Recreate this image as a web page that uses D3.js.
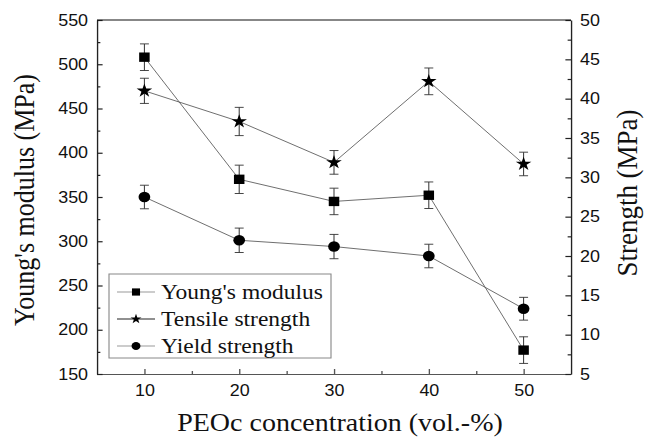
<!DOCTYPE html>
<html>
<head>
<meta charset="utf-8">
<script src="https://cdn.jsdelivr.net/npm/d3@7"></script>
<style>
body{margin:0;background:#fff}
</style>
</head>
<body>
<div class="chart"></div>
<script>
// PEOc concentration (vol.-%)
const conc=[10,20,30,40,50]
// left axis, MPa
const youngs=[508,370,345,352,177]
const youngsErr=[15,16,15,15,15]
// right axis, MPa
const tensile=[41.0,37.1,31.9,42.2,31.7]
const tensileErr=[1.6,1.8,1.5,1.7,1.5]
const yieldStr=[27.5,22.0,21.2,20.0,13.3]
const yieldErr=[1.5,1.55,1.55,1.5,1.45]

const xTicks=[10,20,30,40,50], xMinor=[15,25,35,45]
const yLTicks=d3.range(150,551,50), yLMinor=d3.range(175,550,50)
const yRTicks=d3.range(5,51,5), yRMinor=d3.range(7.5,50,5)

const legendNames=["Young's modulus","Tensile strength","Yield strength"]

const SANS='"Liberation Sans", Arial, sans-serif'
const SERIF='"Liberation Serif", "Times New Roman", "DejaVu Serif", serif'

// the source picture is stretched a bit sideways, so draw everything in a scaled group
const SX=1.12
const width=646, height=438
const plot={left:97,right:571,top:20,bottom:374}

const svg=d3.select('.chart').append('svg')
	.attr('width',width)
	.attr('height',height)
const g=svg.append('g').attr('transform',`scale(${SX},1)`)

let x=d3.scaleLinear().domain([5,55]).range([plot.left/SX,plot.right/SX])
let yL=d3.scaleLinear().domain([150,550]).range([plot.bottom,plot.top])
let yR=d3.scaleLinear().domain([5,50]).range([plot.bottom,plot.top])

// axes, ticks point inward
function axis(make,tr,ticks,minor,pad,col){
	const ax=g.append('g').attr('transform',tr)
	ax.append('g').call(make().tickValues(minor).tickSize(-3).tickSizeOuter(0).tickFormat(''))
		.select('.domain').remove()
	ax.append('g').call(make().tickValues(ticks).tickSize(-5).tickSizeOuter(0).tickPadding(pad).tickFormat(d3.format('d')))
	ax.selectAll('line,path').attr('stroke',col).attr('stroke-width',1.2)
	ax.selectAll('text').style('font-family',SANS).style('font-size','16px').attr('fill','#111')
	return ax
}
axis(()=>d3.axisBottom(x),`translate(0,${plot.bottom})`,xTicks,xMinor,11,'#555')
axis(()=>d3.axisLeft(yL),`translate(${plot.left/SX},0)`,yLTicks,yLMinor,8,'#222')
axis(()=>d3.axisRight(yR),`translate(${plot.right/SX},0)`,yRTicks,yRMinor,8,'#222')

g.append('line')
	.attr('x1',x(5)).attr('x2',x(55))
	.attr('y1',plot.top).attr('y2',plot.top)
	.attr('stroke','#111').attr('stroke-width',1.2)

const series=[
	{name:legendNames[0],vals:youngs,err:youngsErr,y:yL,sym:d3.symbolSquare,size:88,lsize:52,lcol:'#999'},
	{name:legendNames[1],vals:tensile,err:tensileErr,y:yR,sym:d3.symbolStar,size:60,lsize:30,lcol:'#222'},
	{name:legendNames[2],vals:yieldStr,err:yieldErr,y:yR,sym:d3.symbolCircle,size:86,lsize:50,lcol:'#999'}
]

series.forEach(s=>{
	const pts=conc.map((c,i)=>({x:c,v:s.vals[i],e:s.err[i]}))
	g.append('path')
		.datum(pts)
		.attr('fill','none')
		.attr('stroke','#555')
		.attr('stroke-width',0.8)
		.attr('d',d3.line().x(d=>x(d.x)).y(d=>s.y(d.v)))

	const eb=g.selectAll(null).data(pts).enter().append('g').attr('stroke','#333').attr('stroke-width',0.9)
	eb.append('line')
		.attr('x1',d=>x(d.x)).attr('x2',d=>x(d.x))
		.attr('y1',d=>s.y(d.v-d.e)).attr('y2',d=>s.y(d.v+d.e))
	eb.append('line')
		.attr('x1',d=>x(d.x)-4).attr('x2',d=>x(d.x)+4)
		.attr('y1',d=>s.y(d.v+d.e)).attr('y2',d=>s.y(d.v+d.e))
	eb.append('line')
		.attr('x1',d=>x(d.x)-4).attr('x2',d=>x(d.x)+4)
		.attr('y1',d=>s.y(d.v-d.e)).attr('y2',d=>s.y(d.v-d.e))

	g.selectAll(null).data(pts).enter()
		.append('path')
		.attr('d',d3.symbol().type(s.sym).size(s.size))
		.attr('transform',d=>`translate(${x(d.x)},${s.y(d.v)})`)
		.attr('fill','#000')
})

// legend
const lg=g.append('g')
lg.append('rect')
	.attr('x',109/SX).attr('y',274)
	.attr('width',222/SX).attr('height',84)
	.attr('fill','#fff').attr('stroke','#888').attr('stroke-width',1)
series.forEach((s,i)=>{
	const cy=292+i*27
	lg.append('line')
		.attr('x1',117/SX).attr('x2',155/SX)
		.attr('y1',cy).attr('y2',cy)
		.attr('stroke',s.lcol).attr('stroke-width',1)
	lg.append('path')
		.attr('d',d3.symbol().type(s.sym).size(s.lsize))
		.attr('transform',`translate(${136/SX},${cy})`)
		.attr('fill','#000')
	lg.append('text')
		.style('font-family',SERIF).style('font-size','21px')
		.attr('fill','#111')
		.attr('x',161/SX).attr('y',cy+7)
		.text(s.name)
})

// axis titles
g.append('text')
	.style('font-family',SERIF).style('font-size','25px')
	.attr('fill','#111')
	.attr('x',340/SX).attr('y',431)
	.attr('text-anchor','middle')
	.text('PEOc concentration (vol.-%)')
g.append('text')
	.style('font-family',SERIF).style('font-size','26px')
	.attr('fill','#111')
	.attr('transform',`translate(${34/SX},200) rotate(-90)`)
	.attr('text-anchor','middle')
	.text("Young's modulus (MPa)")
g.append('text')
	.style('font-family',SERIF).style('font-size','27px')
	.attr('fill','#111')
	.attr('transform',`translate(${637/SX},193) rotate(-90)`)
	.attr('text-anchor','middle')
	.text('Strength (MPa)')
</script>
</body>
</html>
